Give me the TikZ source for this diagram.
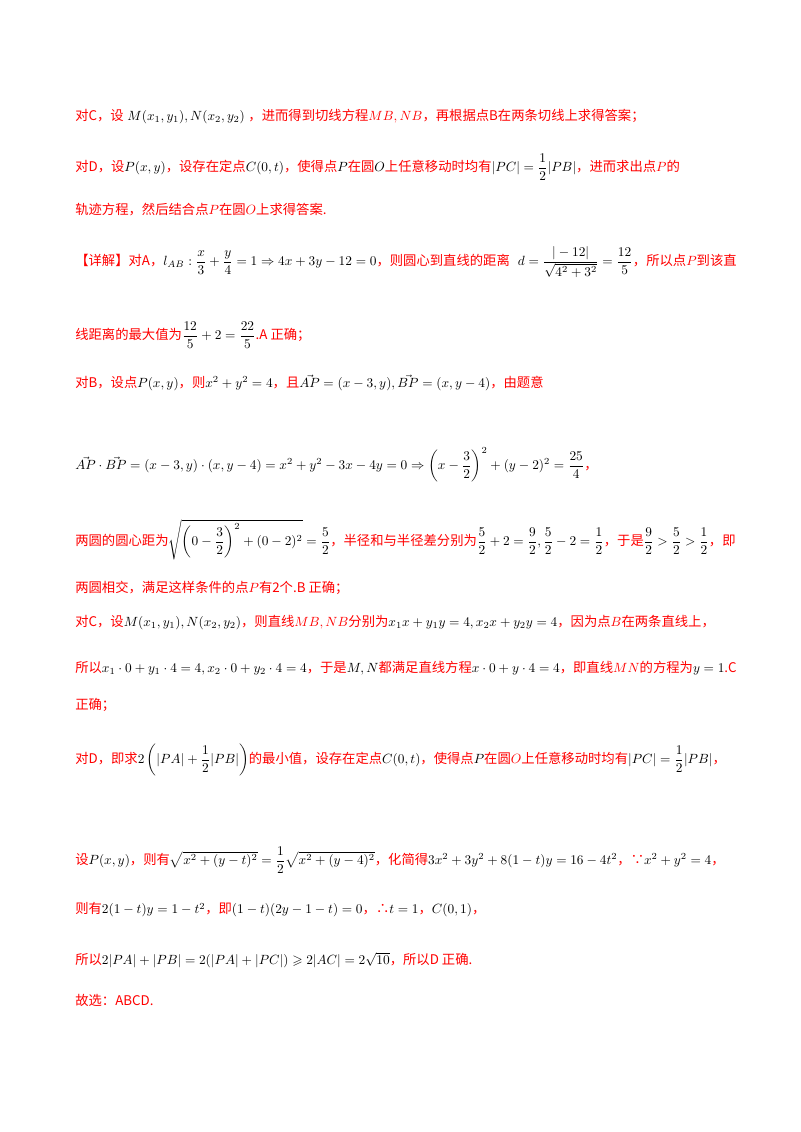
\documentclass[tikz,border=0pt]{standalone}
\usepackage{amsmath,amssymb}
\usepackage{fontspec}
\newfontfamily\cjk{Noto Sans CJK SC}
\newcommand\zh[1]{{\color{red}\cjk #1}}
\newcommand\rl[1]{{\color{red}$#1$}}
\begin{document}
\begin{tikzpicture}[x=0.75pt,y=-0.75pt,
  ln/.style={anchor=west,inner sep=0pt,font=\fontsize{10}{12}\selectfont}]
\useasboundingbox (0,0) rectangle (800,1132);
\fill[white] (0,0) rectangle (800,1132);
\node[ln] (l1) at (75,117) {\zh{对C，设}\;$M(x_1,y_1),N(x_2,y_2)$\;\zh{，进而得到切线方程}\rl{MB,NB}\zh{，再根据点B在两条切线上求得答案；}};
\node[ln] (l2) at (75,167) {\zh{对D，设}$P(x,y)$\zh{，设存在定点}$C(0,t)$\zh{，使得点}$P$\zh{在圆}$O$\zh{上任意移动时均有}$|PC|=\dfrac12|PB|$\zh{，进而求出点}\rl{P}\zh{的}};
\node[ln] (l3) at (75,210) {\zh{轨迹方程，然后结合点}\rl{P}\zh{在圆}\rl{O}\zh{上求得答案.}};
\node[ln] (l4) at (75,262) {\zh{【详解】对A，}$l_{AB}:\dfrac{x}{3}+\dfrac{y}{4}=1\Rightarrow 4x+3y-12=0$\zh{，则圆心到直线的距离}\; $d=\dfrac{|-12|}{\sqrt{4^2+3^2}}=\dfrac{12}{5}$\zh{，所以点}\rl{P}\zh{到该直}};
\node[ln] (l5) at (75,335) {\zh{线距离的最大值为}$\dfrac{12}{5}+2=\dfrac{22}{5}$\zh{.A 正确；}};
\node[ln] (l6) at (75,383) {\zh{对B，设点}$P(x,y)$\zh{，则}$x^2+y^2=4$\zh{，且}$\vec{AP}=(x-3,y),\vec{BP}=(x,y-4)$\zh{，由题意}};
\node[ln] (l7) at (75,465) {$\vec{AP}\cdot\vec{BP}=(x-3,y)\cdot(x,y-4)=x^2+y^2-3x-4y=0\Rightarrow\left(x-\dfrac32\right)^2+(y-2)^2=\dfrac{25}{4}$\zh{，}};
\node[ln] (l8) at (75,540) {\zh{两圆的圆心距为}$\sqrt{\left(0-\dfrac32\right)^2+(0-2)^2}=\dfrac52$\zh{，半径和与半径差分别为}$\dfrac52+2=\dfrac92,\dfrac52-2=\dfrac12$\zh{，于是}$\dfrac92>\dfrac52>\dfrac12$\zh{，即}};
\node[ln] (l9) at (75,588) {\zh{两圆相交，满足这样条件的点}\rl{P}\zh{有2个.B 正确；}};
\node[ln] (l10) at (75,623) {\zh{对C，设}$M(x_1,y_1),N(x_2,y_2)$\zh{，则直线}\rl{MB,NB}\zh{分别为}$x_1x+y_1y=4,x_2x+y_2y=4$\zh{，因为点}\rl{B}\zh{在两条直线上，}};
\node[ln] (l11) at (75,668) {\zh{所以}$x_1\cdot0+y_1\cdot4=4,x_2\cdot0+y_2\cdot4=4$\zh{，于是}$M,N$\zh{都满足直线方程}$x\cdot0+y\cdot4=4$\zh{，即直线}\rl{MN}\zh{的方程为}$y=1$\zh{.C}};
\node[ln] (l12) at (75,705) {\zh{正确；}};
\node[ln] (l13) at (75,760) {\zh{对D，即求}$2\left(|PA|+\dfrac12|PB|\right)$\zh{的最小值，设存在定点}$C(0,t)$\zh{，使得点}$P$\zh{在圆}\rl{O}\zh{上任意移动时均有}$|PC|=\dfrac12|PB|$\zh{，}};
\node[ln] (l14) at (75,860) {\zh{设}$P(x,y)$\zh{，则有}$\sqrt{x^2+(y-t)^2}=\dfrac12\sqrt{x^2+(y-4)^2}$\zh{，化简得}$3x^2+3y^2+8(1-t)y=16-4t^2$\zh{，∵}$x^2+y^2=4$\zh{，}};
\node[ln] (l15) at (75,910) {\zh{则有}$2(1-t)y=1-t^2$\zh{，即}$(1-t)(2y-1-t)=0$\zh{，∴}$t=1$\zh{，}$C(0,1)$\zh{，}};
\node[ln] (l16) at (75,960) {\zh{所以}$2|PA|+|PB|=2(|PA|+|PC|)\geqslant2|AC|=2\sqrt{10}$\zh{，所以D 正确.}};
\node[ln] (l17) at (75,1000) {\zh{故选：ABCD.}};
\end{tikzpicture}
\end{document}
